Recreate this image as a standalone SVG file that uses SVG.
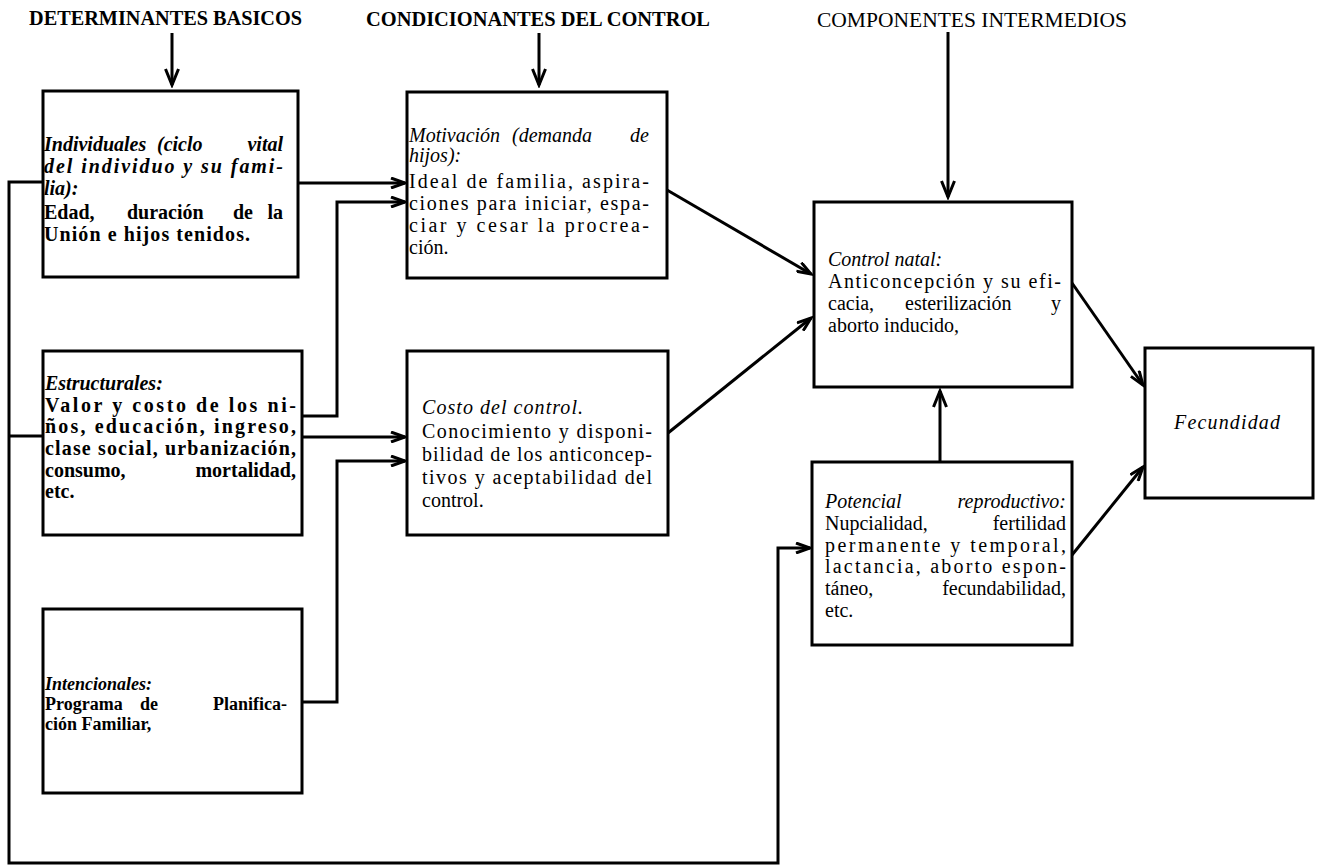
<svg xmlns="http://www.w3.org/2000/svg" width="1318" height="867" viewBox="0 0 1318 867">
  <style>
    .box { fill: #fff; stroke: #000; stroke-width: 3; }
    .ln { fill: none; stroke: #000; stroke-width: 3; stroke-linejoin: miter; }
    text { font-family: "Liberation Serif", "Times New Roman", serif; font-size: 20px; fill: #000; }
    .hd { font-size: 20px; }
    .sm { font-size: 18px; }
    .b { font-weight: bold; }
    .i { font-style: italic; }
    .e { text-anchor: end; }
  </style>
  <defs>
    <marker id="chev" markerUnits="userSpaceOnUse" viewBox="0 0 18 12" markerWidth="18" markerHeight="12" refX="15" refY="6" orient="auto">
      <path d="M1,1 L15,6 L1,11" fill="none" stroke="#000" stroke-width="3"/>
    </marker>
    <marker id="chevL" markerUnits="userSpaceOnUse" viewBox="0 0 20 16" markerWidth="20" markerHeight="16" refX="17" refY="8" orient="auto">
      <path d="M1,1.5 L17,8 L1,14.5" fill="none" stroke="#000" stroke-width="3"/>
    </marker>
  </defs>

  <!-- column headings -->
  <g id="headings">
    <text class="hd b" x="29" y="25" textLength="273" lengthAdjust="spacingAndGlyphs">DETERMINANTES BASICOS</text>
    <text class="hd b" x="366" y="26" textLength="344" lengthAdjust="spacingAndGlyphs">CONDICIONANTES DEL CONTROL</text>
    <text class="hd" x="817" y="27" textLength="310" lengthAdjust="spacingAndGlyphs">COMPONENTES INTERMEDIOS</text>
  </g>

  <!-- connectors -->
  <g id="connectors">
    <line class="ln" x1="172" y1="33" x2="172" y2="85" marker-end="url(#chevL)"/>
    <line class="ln" x1="539" y1="33" x2="539" y2="85" marker-end="url(#chevL)"/>
    <line class="ln" x1="948" y1="32" x2="948" y2="197" marker-end="url(#chevL)"/>

    <!-- left bus feeding the reproductive potential box -->
    <polyline class="ln" points="43,182 9,182 9,863 778,863 778,548 810,548" marker-end="url(#chev)"/>
    <line class="ln" x1="9" y1="436" x2="43" y2="436"/>

    <line class="ln" x1="298" y1="183" x2="405" y2="183" marker-end="url(#chev)"/>
    <polyline class="ln" points="302,416 337,416 337,202 405,202" marker-end="url(#chev)"/>
    <line class="ln" x1="302" y1="437" x2="405" y2="437" marker-end="url(#chev)"/>
    <polyline class="ln" points="302,702 337,702 337,461 405,461" marker-end="url(#chev)"/>

    <line class="ln" x1="667" y1="190" x2="811" y2="274" marker-end="url(#chev)"/>
    <line class="ln" x1="668" y1="433" x2="811" y2="318" marker-end="url(#chev)"/>
    <line class="ln" x1="940" y1="462" x2="940" y2="391" marker-end="url(#chevL)"/>
    <line class="ln" x1="1072" y1="283" x2="1143" y2="385" marker-end="url(#chev)"/>
    <line class="ln" x1="1072" y1="555" x2="1143" y2="467" marker-end="url(#chev)"/>
  </g>

  <g id="individuales">
    <rect class="box" x="43" y="91" width="255" height="186"/>
    <text class="b i" x="44" y="151">Individuales</text>
    <text class="b i" x="157" y="151">(ciclo</text>
    <text class="b i e" x="283" y="151">vital</text>
    <text class="b i" x="44" y="173" textLength="239" lengthAdjust="spacing">del individuo y su fami-</text>
    <text class="b i" x="44" y="195">lia):</text>
    <text class="b" x="44" y="219">Edad,</text>
    <text class="b" x="127" y="219">duración</text>
    <text class="b" x="233" y="219">de</text>
    <text class="b e" x="283" y="219">la</text>
    <text class="b" x="44" y="241" textLength="206" lengthAdjust="spacing">Unión e hijos tenidos.</text>
  </g>

  <g id="estructurales">
    <rect class="box" x="43" y="351" width="259" height="184"/>
    <text class="b i" x="45" y="390">Estructurales:</text>
    <text class="b" x="45" y="412" textLength="251" lengthAdjust="spacing">Valor y costo de los ni-</text>
    <text class="b" x="45" y="433" textLength="251" lengthAdjust="spacing">ños, educación, ingreso,</text>
    <text class="b" x="45" y="455" textLength="251" lengthAdjust="spacing">clase social, urbanización,</text>
    <text class="b" x="45" y="477">consumo,</text>
    <text class="b e" x="296" y="477">mortalidad,</text>
    <text class="b" x="45" y="498">etc.</text>
  </g>

  <g id="intencionales">
    <rect class="box" x="43" y="609" width="259" height="184"/>
    <text class="b i sm" x="45" y="690">Intencionales:</text>
    <text class="b sm" x="45" y="710">Programa</text>
    <text class="b sm" x="140" y="710">de</text>
    <text class="b sm e" x="287" y="710">Planifica-</text>
    <text class="b sm" x="45" y="730">ción Familiar,</text>
  </g>

  <g id="motivacion">
    <rect class="box" x="407" y="92" width="260" height="186"/>
    <text class="i" x="409" y="142">Motivación</text>
    <text class="i" x="512" y="142">(demanda</text>
    <text class="i e" x="649" y="142">de</text>
    <text class="i" x="409" y="162">hijos):</text>
    <text x="409" y="188" textLength="240" lengthAdjust="spacing">Ideal de familia, aspira-</text>
    <text x="409" y="210" textLength="240" lengthAdjust="spacing">ciones para iniciar, espa-</text>
    <text x="409" y="232" textLength="240" lengthAdjust="spacing">ciar y cesar la procrea-</text>
    <text x="409" y="254">ción.</text>
  </g>

  <g id="costo-control">
    <rect class="box" x="407" y="351" width="261" height="184"/>
    <text class="i" x="422" y="414" textLength="161" lengthAdjust="spacing">Costo del control.</text>
    <text x="422" y="438" textLength="230" lengthAdjust="spacing">Conocimiento y disponi-</text>
    <text x="422" y="461" textLength="230" lengthAdjust="spacing">bilidad de los anticoncep-</text>
    <text x="422" y="484" textLength="230" lengthAdjust="spacing">tivos y aceptabilidad del</text>
    <text x="422" y="507">control.</text>
  </g>

  <g id="control-natal">
    <rect class="box" x="814" y="202" width="258" height="185"/>
    <text class="i" x="828" y="266">Control natal:</text>
    <text x="828" y="288" textLength="233" lengthAdjust="spacing">Anticoncepción y su efi-</text>
    <text x="828" y="310">cacia,</text>
    <text x="905" y="310">esterilización</text>
    <text class="e" x="1061" y="310">y</text>
    <text x="828" y="332">aborto inducido,</text>
  </g>

  <g id="potencial-reproductivo">
    <rect class="box" x="812" y="462" width="260" height="183"/>
    <text class="i" x="825" y="508">Potencial</text>
    <text class="i e" x="1066" y="508">reproductivo:</text>
    <text x="825" y="530">Nupcialidad,</text>
    <text class="e" x="1066" y="530">fertilidad</text>
    <text x="825" y="552" textLength="241" lengthAdjust="spacing">permanente y temporal,</text>
    <text x="825" y="573" textLength="241" lengthAdjust="spacing">lactancia, aborto espon-</text>
    <text x="825" y="595">táneo,</text>
    <text class="e" x="1066" y="595">fecundabilidad,</text>
    <text x="825" y="617">etc.</text>
  </g>

  <g id="fecundidad">
    <rect class="box" x="1145" y="348" width="168" height="150"/>
    <text class="i" x="1174" y="429" textLength="106" lengthAdjust="spacing">Fecundidad</text>
  </g>
</svg>
